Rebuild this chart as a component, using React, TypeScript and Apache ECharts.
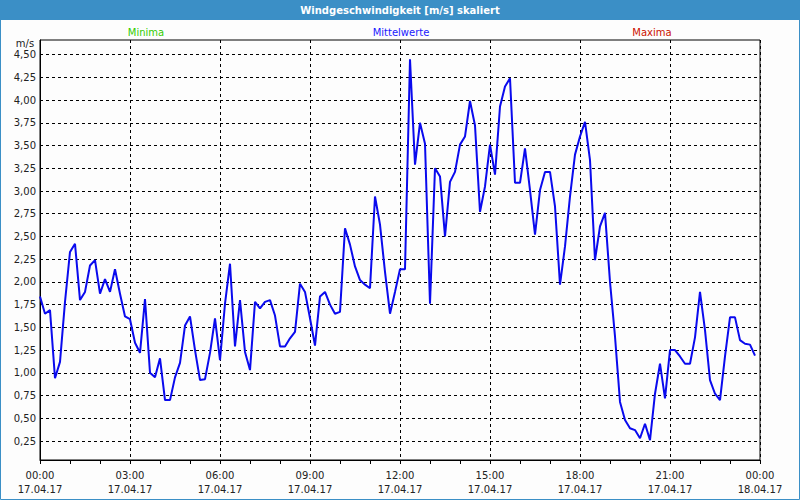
import React, { useEffect, useRef } from "react";
import * as echarts from "echarts";

const TITLE = "Windgeschwindigkeit [m/s] skaliert";
const UNIT = "m/s";
const LEGEND_LABELS = ["Minima", "Mittelwerte", "Maxima"];
const LEGEND_COLORS = ["#33cc00", "#1a1aff", "#cc1100"];
const DAY_LABELS = ["17.04.17", "18.04.17"];
const Y_TICKS = [0.25, 0.5, 0.75, 1, 1.25, 1.5, 1.75, 2, 2.25, 2.5, 2.75, 3, 3.25, 3.5, 3.75, 4, 4.25, 4.5];
const STEP_MINUTES = 10;

// 10-minute mean wind speed values, 17.04.17 00:00 .. 23:50
const MEAN_VALUES = [
  1.84, 1.65, 1.69, 0.94, 1.12, 1.78, 2.33, 2.42, 1.8, 1.89,
  2.18, 2.24, 1.87, 2.03, 1.89, 2.14, 1.87, 1.62, 1.59, 1.33,
  1.22, 1.81, 1.0, 0.95, 1.16, 0.7, 0.7, 0.95, 1.11, 1.52,
  1.62, 1.25, 0.92, 0.93, 1.22, 1.6, 1.14, 1.76, 2.2, 1.29,
  1.8, 1.23, 1.03, 1.78, 1.71, 1.78, 1.8, 1.63, 1.29, 1.29,
  1.38, 1.45, 1.98, 1.89, 1.6, 1.3, 1.84, 1.89, 1.75,
  1.65, 1.67, 2.59, 2.41, 2.17, 2.02, 1.97, 1.93, 2.94, 2.63,
  2.11, 1.65, 1.89, 2.14, 2.14, 4.45, 3.29, 3.75, 3.52, 1.76,
  3.25, 3.16, 2.5, 3.1, 3.21, 3.51, 3.6, 3.99, 3.72,
  2.77, 3.05, 3.51, 3.18, 3.93, 4.15, 4.24, 3.09, 3.09, 3.47,
  3.01, 2.52, 3.01, 3.21, 3.21, 2.83, 1.97, 2.39, 2.94, 3.4,
  3.6, 3.76, 3.34, 2.24, 2.61, 2.76, 2.0, 1.4,
  0.68, 0.48, 0.39, 0.37, 0.28, 0.44, 0.26, 0.77, 1.1, 0.72,
  1.25, 1.25, 1.18, 1.1, 1.1, 1.39, 1.89, 1.47, 0.92, 0.77,
  0.7, 1.18, 1.61, 1.61, 1.36, 1.32, 1.31, 1.19,
];

const FONT = "DejaVu Sans";

export default function App() {
  const ref = useRef<HTMLDivElement>(null);

  useEffect(() => {
    if (!ref.current) return;
    const chart = echarts.init(ref.current, null, { renderer: "svg" });
    const seriesData = MEAN_VALUES.map((v, i) => [(i * STEP_MINUTES) / 60, v]);
    const pad = (n: number) => (n < 10 ? "0" + n : "" + n);

    chart.setOption({
      animation: false,
      backgroundColor: "#fdfdfd",
      grid: {
        left: 40,
        right: 40,
        top: 40,
        bottom: 40,
        show: true,
        borderColor: "#000",
        borderWidth: 1,
        backgroundColor: "transparent",
      },
      xAxis: {
        type: "value",
        min: 0,
        max: 24,
        interval: 3,
        axisLine: { show: true, lineStyle: { color: "#000", width: 1 } },
        axisTick: { show: true, length: 4, lineStyle: { color: "#000" } },
        minorTick: { show: true, splitNumber: 3, length: 4, lineStyle: { color: "#000" } },
        splitLine: { show: true, lineStyle: { color: "#000", type: [3, 3], width: 1 } },
        axisLabel: {
          color: "#222",
          fontFamily: FONT,
          fontSize: 10,
          lineHeight: 14,
          margin: 8,
          showMinLabel: true,
          showMaxLabel: true,
          formatter: (v: number) => {
            const h = Math.round(v);
            const day = h >= 24 ? DAY_LABELS[1] : DAY_LABELS[0];
            return pad(h % 24) + ":00\n" + day;
          },
        },
      },
      yAxis: {
        type: "value",
        min: 0.041,
        max: 4.661,
        axisLine: { show: true, lineStyle: { color: "#000", width: 1 } },
        axisTick: { show: false, customValues: Y_TICKS },
        splitLine: { show: true, lineStyle: { color: "#000", type: [3, 3], width: 1 } },
        axisLabel: {
          customValues: Y_TICKS,
          color: "#222",
          fontFamily: FONT,
          fontSize: 10,
          margin: 4,
          formatter: (v: number) => v.toFixed(2).replace(".", ","),
        },
      },
      graphic: [
        {
          type: "rect",
          shape: { x: 0, y: 0, width: 800, height: 20 },
          style: { fill: "#3b8fc6" },
          silent: true,
        },
        {
          type: "rect",
          shape: { x: 0.5, y: 0.5, width: 799, height: 499 },
          style: { fill: "none", stroke: "#3b8fc6", lineWidth: 1 },
          silent: true,
        },
        {
          type: "text",
          x: 400,
          y: 10,
          style: {
            text: TITLE,
            fill: "#fff",
            fontFamily: FONT,
            fontWeight: "bold",
            fontSize: 10,
            align: "center",
            verticalAlign: "middle",
          },
        },
        {
          type: "text",
          x: 146,
          y: 32,
          style: { text: LEGEND_LABELS[0], fill: LEGEND_COLORS[0], fontFamily: FONT, fontSize: 10, align: "center", verticalAlign: "middle" },
        },
        {
          type: "text",
          x: 401,
          y: 32,
          style: { text: LEGEND_LABELS[1], fill: LEGEND_COLORS[1], fontFamily: FONT, fontSize: 10, align: "center", verticalAlign: "middle" },
        },
        {
          type: "text",
          x: 652,
          y: 32,
          style: { text: LEGEND_LABELS[2], fill: LEGEND_COLORS[2], fontFamily: FONT, fontSize: 10, align: "center", verticalAlign: "middle" },
        },
        {
          type: "text",
          x: 25,
          y: 43,
          style: { text: UNIT, fill: "#222", fontFamily: FONT, fontSize: 10, align: "center", verticalAlign: "middle" },
        },
      ],
      series: [
        {
          name: LEGEND_LABELS[1],
          type: "line",
          data: seriesData,
          showSymbol: false,
          symbol: "none",
          lineStyle: { color: "#0a0aee", width: 2 },
          itemStyle: { color: "#0a0aee" },
        },
      ],
    });

    return () => chart.dispose();
  }, []);

  return (
    <div
      ref={ref}
      style={{ position: "fixed", left: 0, top: 0, width: 800, height: 500 }}
    />
  );
}
